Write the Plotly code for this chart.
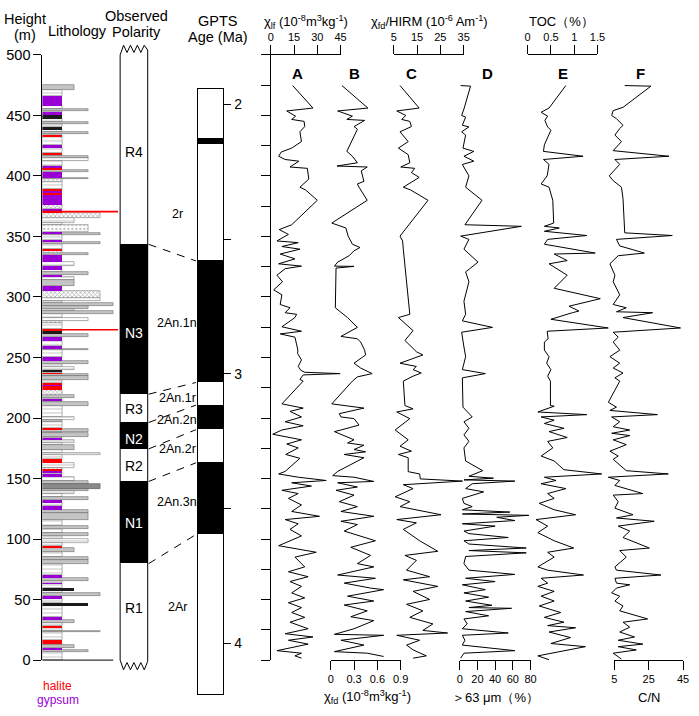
import plotly.graph_objects as go

W, H = 699, 716
FONT = "Arial, Liberation Sans, sans-serif"


def px(x):
    return x / W


def py(y):
    return 1 - y / H


# ---------------- data ----------------
# lithology log: layer top / base (m), lithology kind, grain-size class
litho_top = [475.0, 470.7, 466.0, 458.0, 455.0, 453.8, 452.6, 450.7, 447.2, 444.5, 442.6, 440.5, 437.8, 436.2,
             435.0, 433.8, 432.0, 425.7, 423.0, 419.0, 417.6, 416.8, 414.6, 412.5, 408.0, 406.2, 405.0, 403.2,
             398.5, 397.5, 394.7, 389.3, 388.0, 386.0, 384.5, 376.0, 372.6, 370.8, 369.8, 365.6, 361.5, 359.7,
             353.8, 352.9, 351.6, 347.0, 345.5, 343.5, 339.5, 338.5, 336.0, 334.5, 328.7, 325.5, 322.5, 321.0,
             318.0, 316.7, 314.0, 309.0, 305.0, 299.2, 296.5, 295.0, 292.4, 290.0, 288.5, 286.0, 283.0, 280.5,
             278.5, 273.3, 272.5, 271.7, 269.5, 266.8, 264.1, 259.3, 257.5, 256.1, 250.1, 247.4, 244.8, 242.6,
             239.9, 238.5, 237.2, 236.5, 235.1, 234.5, 231.8, 229.1, 227.0, 226.4, 223.2, 219.4, 217.0, 215.7,
             214.3, 213.0, 210.3, 200.9, 198.2, 196.8, 192.0, 190.9, 188.7, 187.4, 184.7, 183.4, 181.5, 179.3,
             178.0, 174.0, 171.2, 169.9, 165.8, 163.2, 159.1, 157.5, 156.5, 155.0, 153.8, 151.1, 148.4, 145.7,
             141.7, 139.5, 137.6, 135.0, 132.2, 129.5, 127.0, 124.2, 121.5, 116.1, 110.7, 108.0, 105.3, 102.6,
             99.9, 97.2, 94.5, 92.6, 89.1, 85.1, 82.4, 79.7, 70.3, 67.6, 65.7, 63.6, 63.0, 59.5, 56.8, 55.5,
             52.8, 50.6, 47.4, 44.7, 35.3, 33.6, 30.6, 28.0, 26.8, 24.0, 23.2, 16.4, 13.7, 12.4, 10.0, 8.4, 7.0]
litho_base = litho_top[1:] + [0.0]
litho_kind = ['silt', 'mud', 'gyp', 'mud', 'silt', 'mud', 'gyp', 'dark', 'mud', 'silt', 'mud', 'dark', 'mud', 'silt',
              'mud', 'hal', 'mud', 'gyp', 'mud', 'hal', 'mud', 'silt', 'mud', 'mud', 'gyp', 'hal', 'silt', 'gyp',
              'silt', 'chk', 'mud', 'hal', 'gyp', 'hal', 'gyp', 'chk', 'gyp', 'hal', 'chk', 'mud', 'mud', 'sand',
              'gyp', 'silt', 'mud', 'gyp', 'silt', 'mud', 'hal', 'chk', 'silt', 'gyp', 'mud', 'gyp', 'mud', 'silt',
              'gyp', 'mud', 'silt', 'gyp', 'chk', 'mud', 'mud', 'silt', 'silt', 'mud', 'silt', 'mud', 'mud', 'chk',
              'mud', 'hal', 'mud', 'dark', 'silt', 'gyp', 'mud', 'gyp', 'silt', 'mud', 'gyp', 'silt', 'mud', 'mud',
              'dark', 'mud', 'hal', 'silt', 'mud', 'silt', 'mud', 'hal', 'gyp', 'hal', 'chk', 'silt', 'mud', 'gyp',
              'mud', 'silt', 'mud', 'mud', 'silt', 'mud', 'hal', 'silt', 'mud', 'silt', 'mud', 'gyp', 'mud', 'mud',
              'silt', 'mud', 'mud', 'mud', 'hal', 'mud', 'chk', 'hal', 'gyp', 'chk', 'gyp', 'mud', 'silt', 'dsilt',
              'silt', 'mud', 'mud', 'silt', 'gyp', 'mud', 'gyp', 'silt', 'silt', 'mud', 'silt', 'mud', 'silt', 'mud',
              'mud', 'mud', 'hal', 'silt', 'mud', 'silt', 'silt', 'mud', 'gyp', 'silt', 'mud', 'gyp', 'mud', 'dark',
              'mud', 'silt', 'gyp', 'mud', 'dark', 'mud', 'gyp', 'silt', 'mud', 'hal', 'mud', 'silt', 'mud', 'hal',
              'mud', 'silt', 'gyp', 'silt', 'mud']
litho_grain = [2, 1, 1, 1, 3, 1, 1, 1, 1, 3, 1, 1, 1, 3,
               1, 1, 1, 1, 1, 1, 1, 3, 3, 1, 1, 1, 3, 1,
               3, 1, 1, 1, 1, 1, 1, 1, 1, 1, 4, 2, 1, 3,
               1, 4, 1, 1, 4, 1, 1, 1, 3, 1, 2, 1, 1, 3,
               1, 2, 2, 1, 4, 4, 1, 5, 3, 2, 5, 1, 3, 1,
               1, 1, 1, 1, 3, 1, 1, 1, 3, 1, 1, 3, 1, 2,
               1, 1, 1, 3, 1, 3, 1, 1, 1, 1, 1, 2, 1, 1,
               1, 3, 1, 2, 1, 1, 1, 3, 1, 3, 1, 1, 2, 1,
               2, 1, 4, 1, 1, 2, 1, 1, 1, 1, 1, 2, 3, 4,
               3, 2, 1, 3, 1, 1, 1, 3, 3, 1, 3, 1, 3, 1,
               3, 1, 1, 2, 1, 3, 3, 1, 1, 3, 1, 1, 1, 2, 1, 4,
               1, 1, 3, 1, 1, 2, 1, 1, 1, 4, 1, 1, 1, 2, 1, 3, 1]
halite_marker = [370.5, 272.9]

# observed polarity zones (m)
pol_name = ['R4', 'N3', 'R3', 'N2', 'R2', 'N1', 'R1']
pol_top = [500.0, 343.5, 219.7, 196.3, 174.5, 147.6, 79.7]
pol_base = [343.5, 219.7, 196.3, 174.5, 147.6, 79.7, 0.0]
pol_label_h = [420, 270, 207.5, 183, 160, 113, 43]

# GPTS (Ma)
normal_start = [2.128, 2.581, 3.116, 3.330]
normal_end = [2.148, 3.032, 3.207, 3.596]
chron_name = ['2r', '2An.1n', '2An.1r', '2An.2n', '2An.2r', '2An.3n', '2Ar']
chron_label_age = [2.406, 2.813, 3.088, 3.172, 3.280, 3.475, 3.866]
tie_height = [343.5, 219.7, 196.3, 174.5, 147.6, 79.7]
tie_age = [2.581, 3.032, 3.116, 3.207, 3.330, 3.596]

# A: chi_lf
h_a = [474.7, 456.1, 453.7, 449.4, 446.7, 445.1, 440.8, 436.5, 428.4, 423.0, 419.8, 416.3, 413.6, 412.2, 407.4,
       406.3, 397.4, 390.7, 388.5, 379.9, 359.7, 355.7, 351.7, 346.3, 344.9, 341.7, 339.5, 335.5, 331.5, 327.4,
       325.5, 323.4, 318.0, 312.6, 305.9, 301.8, 293.8, 291.1, 287.0, 285.7, 283.0, 275.4, 271.7, 269.5, 266.8,
       256.1, 253.4, 248.0, 242.6, 239.4, 237.8, 236.7, 235.6, 231.9, 230.5, 211.7, 208.2, 205.5, 200.9, 196.9,
       193.6, 190.1, 186.6, 184.7, 182.0, 178.5, 175.3, 169.9, 166.7, 155.9, 153.8, 151.1, 148.4, 146.5, 143.8,
       140.3, 137.6, 133.6, 128.2, 122.8, 118.8, 116.1, 112.6, 108.0, 102.6, 94.5, 89.1, 85.1, 77.0, 73.0, 68.9,
       64.9, 60.9, 55.5, 51.4, 47.4, 43.4, 39.3, 35.3, 31.3, 25.9, 21.8, 19.1, 16.4, 13.2, 7.8, 5.7, 3.5, 1.6]
chi_lf = [14.1, 27.2, 10.3, 16.0, 13.5, 21.5, 21.9, 18.8, 19.8, 13.5, 6.8, 5.1, 9.3, 18.1, 12.4,
          23.6, 24.5, 18.8, 22.4, 30.0, 13.5, 5.5, 11.4, 4.0, 17.7, 7.2, 18.8, 6.1, 15.6, 5.1,
          19.8, 9.3, 4.0, 7.6, 1.9, 7.2, 6.1, 12.4, 9.3, 16.7, 15.6, 7.2, 19.8, 6.1, 15.6,
          17.5, 17.3, 19.8, 17.7, 19.4, 21.9, 44.7, 20.9, 18.8, 20.9, 7.2, 20.9, 12.4, 19.8, 9.3,
          20.9, 7.2, 1.3, 9.3, 19.8, 10.3, 17.7, 9.7, 18.8, 9.3, 5.1, 17.7, 35.7, 13.5, 26.2,
          7.2, 17.7, 11.4, 19.8, 13.5, 31.4, 9.3, 17.7, 12.4, 19.8, 5.1, 29.3, 15.6, 21.9, 11.4, 24.1,
          12.4, 19.8, 13.5, 21.9, 11.4, 19.8, 13.5, 21.9, 12.4, 24.1, 9.3, 27.2, 11.4, 24.1, 4.0, 19.8, 15.6, 19.8]

# B: chi_fd
h_b = [474.7, 456.1, 453.7, 449.4, 446.7, 445.9, 440.8, 438.6, 420.3, 416.3, 410.9, 408.2, 407.4, 404.2, 395.5,
       393.4, 390.7, 379.9, 361.1, 357.0, 350.3, 343.6, 340.9, 338.2, 334.1, 328.8, 325.5, 325.3, 323.9, 291.1,
       283.0, 274.9, 267.4, 265.5, 262.8, 256.1, 252.1, 245.3, 241.3, 236.7, 234.0, 230.5, 211.7, 208.2, 203.6,
       200.9, 199.5, 194.2, 190.1, 188.8, 182.0, 179.4, 177.5, 174.0, 172.1, 169.9, 167.2, 155.9, 152.4, 151.1,
       147.6, 146.5, 143.0, 140.3, 136.3, 130.9, 126.8, 122.8, 118.8, 114.7, 112.0, 106.6, 98.6, 93.2, 86.5,
       79.7, 77.0, 70.3, 67.6, 63.6, 59.5, 58.2, 52.8, 48.8, 45.5, 40.7, 35.8, 32.6, 25.9, 21.3, 20.5, 16.4,
       12.4, 7.0, 5.7, 3.0]
chi_fd = [0.144, 0.478, 0.089, 0.279, 0.207, 0.436, 0.300, 0.343, 0.207, 0.279, 0.343, 0.080, 0.470, 0.393, 0.427,
          0.343, 0.364, 0.470, 0.013, 0.195, 0.224, 0.279, 0.376, 0.300, 0.237, 0.089, 0.047, 0.300, 0.068, 0.059,
          0.216, 0.343, 0.131, 0.343, 0.385, 0.436, 0.449, 0.300, 0.385, 0.533, 0.343, 0.279, 0.013, 0.427, 0.110,
          0.131, 0.300, 0.364, 0.131, 0.047, 0.300, 0.216, 0.427, 0.300, 0.449, 0.173, 0.427, 0.089, 0.025, 0.300,
          0.554, 0.089, 0.343, 0.068, 0.300, 0.110, 0.343, 0.131, 0.554, 0.131, 0.343, 0.173, 0.575, 0.258, 0.512,
          0.343, 0.554, 0.089, 0.575, 0.173, 0.512, 0.681, 0.216, 0.554, 0.173, 0.470, 0.258, 0.554, 0.300, 0.047,
          0.681, 0.131, 0.427, 0.047, 0.470, 0.681]

# C: chi_fd / HIRM
h_c = [474.7, 456.1, 453.7, 450.0, 446.7, 445.1, 440.8, 436.5, 428.4, 423.0, 417.6, 410.9, 407.4, 406.3, 402.8,
       398.8, 390.7, 388.5, 379.9, 350.3, 346.3, 339.5, 285.7, 283.0, 272.2, 264.1, 254.8, 252.1, 245.3, 242.6,
       240.0, 237.2, 234.6, 230.5, 210.3, 207.6, 205.0, 199.5, 190.1, 182.0, 176.7, 172.6, 169.9, 167.2, 155.7,
       153.8, 149.7, 147.9, 144.9, 141.7, 134.9, 130.9, 126.8, 120.1, 116.1, 113.4, 108.0, 98.6, 89.9, 86.5,
       82.4, 74.3, 68.9, 66.3, 60.9, 56.8, 50.1, 46.1, 40.7, 35.3, 29.9, 24.5, 22.4, 20.5, 16.4, 12.4, 8.4,
       3.5, 1.6]
fd_hirm = [7.7, 15.9, 6.3, 10.2, 8.4, 11.9, 12.6, 7.7, 11.2, 7.0, 11.2, 11.9, 8.0, 14.0, 12.6,
           15.9, 9.1, 12.2, 19.7, 7.7, 8.8, 9.1, 11.9, 7.0, 13.3, 9.8, 14.7, 17.5, 7.7, 14.7,
           13.3, 16.8, 13.3, 9.1, 9.8, 13.3, 6.3, 11.9, 5.6, 11.2, 7.7, 12.6, 7.0, 11.2, 11.2,
           16.1, 16.4, 34.5, 9.1, 13.3, 5.6, 11.9, 7.7, 25.3, 6.3, 14.7, 9.1, 16.1, 23.9, 9.8,
           14.7, 10.5, 20.4, 9.1, 23.9, 13.3, 20.4, 10.5, 17.5, 11.9, 21.8, 17.5, 28.1, 6.3, 16.1, 10.5, 13.3,
           19.0, 13.3]

# D: >63 um fraction
h_d = [474.7, 474.2, 455.3, 450.0, 448.6, 441.9, 440.5, 436.5, 433.8, 423.0, 420.3, 416.3, 412.2, 409.5, 400.1,
       390.7, 379.9, 359.7, 358.4, 350.3, 347.6, 339.5, 328.8, 320.7, 312.6, 296.5, 285.7, 280.3, 274.9, 270.9,
       258.7, 250.7, 240.0, 236.7, 233.2, 209.0, 200.9, 196.9, 191.5, 186.1, 180.7, 175.3, 164.5, 156.5, 151.9,
       150.3, 148.9, 147.9, 145.7, 141.7, 139.0, 133.6, 129.5, 126.8, 124.2, 122.3, 120.7, 119.6, 118.0, 115.3,
       112.6, 110.7, 106.6, 104.5, 101.3, 98.6, 95.9, 92.6, 90.5, 88.6, 85.6, 79.7, 74.3, 70.8, 67.6, 64.9,
       62.2, 58.2, 55.5, 52.0, 48.8, 45.3, 43.4, 42.8, 40.1, 36.6, 34.0, 29.9, 25.9, 22.4, 20.5, 16.4, 12.4,
       7.8, 5.7, 1.6]
coarse = [1.1, 12.2, 4.8, 2.2, 6.7, 3.0, 10.4, 2.2, 6.7, 3.7, 15.9, 4.8, 15.9, 3.0, 10.4,
          6.7, 25.2, 5.9, 69.6, 1.1, 10.4, 4.8, 20.7, 6.7, 10.4, 4.8, 6.7, 3.0, 37.0, 2.2,
          4.8, 6.7, 3.0, 28.9, 3.0, 3.7, 14.1, 4.8, 10.4, 4.8, 10.4, 4.8, 6.7, 26.0, 10.4,
          38.1, 4.8, 62.2, 14.1, 6.7, 27.0, 3.0, 4.8, 14.1, 3.0, 56.6, 3.0, 78.0, 41.8, 62.2,
          3.0, 40.0, 4.8, 10.4, 54.8, 4.8, 10.4, 75.1, 10.4, 75.1, 6.7, 4.8, 10.4, 62.2, 6.7, 40.0,
          3.0, 28.9, 4.8, 32.6, 6.7, 36.3, 10.4, 58.5, 6.7, 32.6, 4.8, 8.5, 3.0, 54.8, 3.0, 5.9, 3.0,
          62.2, 4.8, 1.1]

# E: TOC
h_e = [474.7, 456.1, 452.6, 449.4, 445.9, 440.5, 437.8, 432.4, 425.7, 420.3, 416.3, 413.6, 409.6, 400.1, 393.4,
       390.7, 379.9, 361.1, 358.4, 357.0, 354.3, 350.8, 347.6, 343.6, 336.3, 335.5, 330.1, 327.4, 318.0, 307.2,
       298.6, 292.4, 288.4, 287.0, 281.6, 274.4, 271.7, 265.5, 262.8, 256.1, 250.7, 245.3, 240.0, 234.6, 230.5,
       210.3, 209.8, 205.0, 202.8, 200.9, 198.2, 195.5, 191.5, 188.8, 183.9, 180.7, 175.3, 168.6, 164.5, 157.3,
       153.8, 151.1, 148.4, 145.7, 141.7, 137.6, 133.6, 129.5, 124.2, 120.1, 116.1, 110.7, 105.3, 98.6, 92.6,
       89.1, 85.1, 77.0, 74.3, 70.3, 67.6, 63.6, 60.9, 56.8, 52.8, 48.8, 44.7, 39.3, 35.3, 31.3, 28.5, 26.7,
       23.2, 18.6, 13.7, 11.1, 7.0, 3.5, 0.3]
toc = [0.82, 0.46, 0.29, 0.43, 0.37, 0.43, 0.50, 0.44, 0.36, 0.34, 1.19, 0.34, 0.46, 0.42, 0.29,
       0.46, 0.54, 0.56, 0.36, 0.68, 0.36, 1.27, 0.43, 0.36, 1.45, 0.57, 0.85, 0.46, 0.85, 0.57,
       1.56, 0.89, 1.10, 0.96, 0.50, 1.73, 0.42, 0.44, 0.36, 0.36, 0.46, 0.41, 0.50, 0.43, 0.49,
       0.49, 0.57, 0.22, 1.27, 0.29, 0.57, 0.36, 0.78, 0.46, 0.85, 0.43, 0.54, 0.29, 0.57, 0.78,
       1.59, 0.36, 0.61, 0.29, 0.82, 0.43, 0.57, 0.25, 0.57, 1.03, 0.18, 0.43, 0.22, 0.57, 0.99,
       0.43, 0.57, 0.22, 0.43, 1.20, 0.29, 0.43, 0.22, 0.57, 0.29, 0.57, 0.25, 0.71, 0.36, 0.78, 0.43, 1.03,
       0.46, 0.92, 0.50, 1.24, 0.64, 0.22, 0.46]

# F: C/N
h_f = [474.7, 474.2, 456.7, 454.0, 450.0, 447.3, 441.9, 439.2, 433.8, 428.4, 420.9, 416.3, 413.6, 409.6, 400.1,
       396.1, 390.7, 381.3, 353.0, 350.8, 347.6, 342.2, 336.3, 334.1, 327.4, 318.0, 312.6, 301.8, 293.8, 291.1,
       287.8, 287.0, 283.0, 274.4, 270.9, 266.8, 262.8, 256.1, 250.7, 245.3, 241.3, 237.2, 233.2, 230.5, 213.0,
       209.0, 206.3, 202.8, 200.9, 196.9, 192.8, 190.1, 187.4, 185.5, 182.0, 178.0, 172.6, 168.6, 165.9, 156.5,
       153.8, 151.1, 148.4, 144.3, 137.6, 136.3, 130.9, 125.5, 120.1, 117.4, 114.7, 110.7, 106.6, 101.3, 92.6,
       90.5, 85.1, 77.0, 74.3, 70.3, 67.6, 63.6, 62.2, 59.5, 55.5, 52.8, 48.8, 44.7, 40.7, 34.0, 31.3, 27.2,
       23.2, 19.1, 16.4, 13.2, 11.1, 8.4, 5.7, 3.0, 0.8]
c_n = [11.1, 26.3, 10.1, 4.4, 3.5, 6.3, 10.1, 8.2, 5.4, 9.2, 4.4, 36.8, 5.4, 8.2, 2.1,
       4.4, 9.2, 10.1, 11.1, 38.7, 6.3, 8.2, 22.5, 7.3, 2.5, 5.4, 4.4, 8.2, 4.4, 12.0,
       6.3, 27.3, 10.1, 43.5, 4.4, 7.3, 4.4, 8.2, 2.5, 8.2, 4.4, 10.1, 5.4, 8.2, 1.6,
       6.3, 2.5, 30.1, 3.5, 8.2, 4.4, 14.0, 3.5, 14.0, 4.4, 12.0, 2.5, 7.3, 4.4, 12.0,
       36.4, 1.6, 8.2, 5.4, 21.6, 4.4, 7.3, 5.4, 15.9, 6.3, 28.2, 7.3, 14.0, 10.1, 25.4,
       8.2, 12.0, 5.4, 6.3, 32.1, 5.4, 6.3, 14.0, 6.3, 3.5, 8.2, 5.4, 10.1, 8.2, 24.4, 10.1, 14.0,
       8.2, 16.8, 7.3, 21.6, 7.3, 17.8, 4.4, 7.3, 9.2]

# ---------------- figure ----------------
fig = go.Figure()

y_dom = [py(667), py(48)]          # 0 m .. 500 m
m_per_px = 500 / (667 - 48)

# lithology column
grain_px = {1: 20, 2: 33, 3: 47, 4: 59, 5: 72}
kind_style = {
    'mud': dict(color='white', pattern=dict(shape='-', fgcolor='#9a9a9a', size=4, solidity=0.3),
                line=dict(color='#808080', width=0.6)),
    'silt': dict(color='#c4c4c4', line=dict(color='#6e6e6e', width=0.6)),
    'dsilt': dict(color='#8a8a8a', line=dict(color='#555555', width=0.6)),
    'sand': dict(color='white', pattern=dict(shape='.', fgcolor='#888888', size=4, solidity=0.3),
                 line=dict(color='#808080', width=0.6)),
    'chk': dict(color='white', pattern=dict(shape='x', fgcolor='#555555', size=3, solidity=0.4),
                line=dict(color='#808080', width=0.6)),
    'dark': dict(color='#1c1c1c', line=dict(width=0)),
    'gyp': dict(color='#9a00d6', line=dict(width=0)),
    'hal': dict(color='#ff0000', line=dict(width=0)),
}
for kind, style in kind_style.items():
    idx = [i for i, k in enumerate(litho_kind) if k == kind]
    fig.add_trace(go.Bar(
        orientation='h',
        y=[(litho_top[i] + litho_base[i]) / 2 for i in idx],
        x=[grain_px[litho_grain[i]] for i in idx],
        width=[litho_top[i] - litho_base[i] for i in idx],
        base=0, marker=style, xaxis='x', yaxis='y',
        showlegend=False, hoverinfo='skip'))

for h in halite_marker:
    fig.add_trace(go.Scatter(x=[0, 77], y=[h, h], mode='lines', line=dict(color='#ff0000', width=1.6),
                             xaxis='x', yaxis='y', showlegend=False, hoverinfo='skip'))

# observed polarity column: normal zones as black bars, outline with break symbols
n_idx = [i for i, n in enumerate(pol_name) if n.startswith('N')]
fig.add_trace(go.Bar(
    x=[14] * len(n_idx), y=[pol_top[i] - pol_base[i] for i in n_idx], base=[pol_base[i] for i in n_idx],
    width=28, marker=dict(color='black', line=dict(width=0)), xaxis='x2', yaxis='y2',
    showlegend=False, hoverinfo='skip'))
zig_x = [0, 3.5, 7, 10.5, 14, 17.5, 21, 24.5, 28]
zig_top = [0, 8, 2, 8, 2, 8, 2, 8, 4]
zig_bot = [0, -8, -2, -8, -2, -8, -2, -8, -1]
fig.add_trace(go.Scatter(
    x=zig_x + zig_x[::-1] + [zig_x[0]],
    y=[500 + z for z in zig_top] + zig_bot[::-1] + [500 + zig_top[0]],
    mode='lines', line=dict(color='black', width=1),
    xaxis='x2', yaxis='y2', showlegend=False, hoverinfo='skip'))

# GPTS column
fig.add_trace(go.Bar(
    x=[0.5] * len(normal_start), y=[e - s for s, e in zip(normal_start, normal_end)], base=normal_start,
    width=1, marker=dict(color='black', line=dict(width=0)), xaxis='x3', yaxis='y3',
    showlegend=False, hoverinfo='skip'))

# right-hand curves
scale_px = [(272, 343), (333, 404), (397, 468), (464, 536), (533, 604), (621, 691)]
scale_range = [(0, 45), (0, 0.9), (5, 35), (0, 80), (0, 1.5), (5, 45)]
scale_ticks = [[0, 15, 30, 45], [0, 0.3, 0.6, 0.9], [5, 15, 25, 35], [0, 20, 40, 60, 80],
               [0, 0.5, 1, 1.5], [5, 25, 45]]
scale_side = ['top', 'bottom', 'top', 'bottom', 'top', 'bottom']
series = [(h_a, chi_lf), (h_b, chi_fd), (h_c, fd_hirm), (h_d, coarse), (h_e, toc), (h_f, c_n)]

layout_axes = {}
for k in range(6):
    p0, p1 = scale_px[k]
    r0, r1 = scale_range[k]
    per_px = (r1 - r0) / (p1 - p0)
    sx = k + 4
    dx = k + 10
    layout_axes['xaxis%d' % sx] = dict(
        domain=[px(p0), px(p1)], range=[r0, r1], anchor='y4', side=scale_side[k],
        tickvals=scale_ticks[k], ticks='outside', ticklen=9, tickwidth=1, tickcolor='black',
        showline=True, linecolor='black', linewidth=1, showgrid=False, zeroline=False,
        tickfont=dict(size=11, color='black'))
    left_pad = min(14, p0)
    right_pad = min(14, W - p1)
    layout_axes['xaxis%d' % dx] = dict(
        domain=[px(p0 - left_pad), px(p1 + right_pad)],
        range=[r0 - left_pad * per_px, r1 + right_pad * per_px], anchor='y4', visible=False)
    fig.add_trace(go.Scatter(x=[None], y=[None], xaxis='x%d' % sx, yaxis='y4',
                             showlegend=False, hoverinfo='skip'))
    hs, vs = series[k]
    fig.add_trace(go.Scatter(x=vs, y=hs, mode='lines', line=dict(color='black', width=1),
                             xaxis='x%d' % dx, yaxis='y4', showlegend=False, hoverinfo='skip'))

# tie lines polarity -> GPTS
age_dom = [py(701.7), py(83.3)]
age_rng = [4.1875, 1.945]
shapes = []
for h, a in zip(tie_height, tie_age):
    y0 = y_dom[0] + h / 500 * (y_dom[1] - y_dom[0])
    y1 = age_dom[0] + (a - age_rng[0]) / (age_rng[1] - age_rng[0]) * (age_dom[1] - age_dom[0])
    shapes.append(dict(type='line', xref='paper', yref='paper', x0=px(148), x1=px(196), y0=y0, y1=y1,
                       line=dict(color='black', width=1, dash='8px,7px')))
shapes.append(dict(type='line', xref='paper', yref='paper', x0=px(40), x1=px(112), y0=y_dom[0], y1=y_dom[0],
                   line=dict(color='black', width=1)))

# text
ann = []


def label(x, y, text, size=14.5, color='black', bold=False, xref='paper', yref='paper'):
    if bold:
        text = '<b>' + text + '</b>'
    ann.append(dict(x=x, y=y, xref=xref, yref=yref, text=text, showarrow=False,
                    font=dict(size=size, color=color, family=FONT), xanchor='center', yanchor='middle'))


label(px(22), py(11), 'Height')
label(px(22), py(28), '(m)')
label(px(76), py(24), 'Lithology')
label(px(136), py(8), 'Observed')
label(px(136), py(25), 'Polarity')
label(px(218), py(13), 'GPTS')
label(px(218), py(30), 'Age (Ma)')
label(px(55), py(694), 'halite', size=12, color='#ff0000')
label(px(56), py(708), 'gypsum', size=12, color='#9a00d6')

for name, hl in zip(pol_name, pol_label_h):
    label(14, hl, name, size=14, color='white' if name.startswith('N') else 'black', xref='x2', yref='y2')
for name, a in zip(chron_name, chron_label_age):
    label(px(177), a, name, size=12.5, yref='y3')

label(px(308), py(14), '\u03c7<sub>lf</sub> (10<sup>-8</sup>m<sup>3</sup>kg<sup>-1</sup>)', size=13)
label(px(433), py(14), '\u03c7<sub>fd</sub>/HIRM (10<sup>-6</sup> Am<sup>-1</sup>)', size=13)
label(px(567), py(14), 'TOC\uff08%\uff09', size=13)
label(px(370), py(705), '\u03c7<sub>fd</sub> (10<sup>-8</sup>m<sup>3</sup>kg<sup>-1</sup>)', size=13)
label(px(500), py(705), '\uff1e63 \u03bcm\uff08%\uff09', size=13)
label(px(656), py(705), 'C/N', size=13)

for letter, lx in zip(['A', 'B', 'C', 'D', 'E', 'F'], [299, 357, 415, 492, 569, 648]):
    label(px(lx), py(67), letter, size=15, bold=True)

y2_rng = [-(680 - 667) * m_per_px, 500 + (48 - 35) * m_per_px]

fig.update_layout(
    width=W, height=H, margin=dict(l=0, r=0, t=0, b=0),
    paper_bgcolor='white', plot_bgcolor='rgba(0,0,0,0)',
    font=dict(family=FONT, color='black'),
    showlegend=False, barmode='overlay', bargap=0,
    xaxis=dict(domain=[px(40), px(117)], range=[0, 77], anchor='y', visible=False),
    yaxis=dict(domain=y_dom, range=[0, 500], anchor='x', tickvals=list(range(0, 501, 50)),
               ticks='outside', ticklen=8, tickwidth=1, tickcolor='black', showline=True,
               linecolor='black', linewidth=1, showgrid=False, zeroline=False,
               tickfont=dict(size=14.5, color='black')),
    xaxis2=dict(domain=[px(115), px(151)], range=[-4, 32], anchor='y2', visible=False),
    yaxis2=dict(domain=[py(680), py(35)], range=y2_rng, anchor='x2', visible=False),
    xaxis3=dict(domain=[px(198), px(224)], range=[0, 1], anchor='y3', showline=True, mirror=True,
                linecolor='black', linewidth=1, showticklabels=False, ticks='', showgrid=False,
                zeroline=False),
    yaxis3=dict(domain=age_dom, range=age_rng, anchor='x3', side='right', showline=True, mirror=True,
                linecolor='black', linewidth=1, tickvals=[2, 2.5, 3, 3.5, 4],
                ticktext=['2', '', '3', '', '4'], ticks='outside', ticklen=7, tickwidth=1,
                tickcolor='black', showgrid=False, zeroline=False, tickfont=dict(size=14, color='black')),
    yaxis4=dict(domain=y_dom, range=[0, 500], anchor='x4', tickvals=list(range(0, 501, 25)),
                ticks='outside', ticklen=9, tickwidth=1, tickcolor='black', showticklabels=False,
                showline=True, linecolor='black', linewidth=1, showgrid=False, zeroline=False),
    shapes=shapes, annotations=ann,
)
fig.update_layout(**layout_axes)

# pin the figure to the window corner so page margins do not shift it
pin = ("var gd=document.getElementById('{plot_id}');gd.style.position='fixed';"
       "gd.style.left='0px';gd.style.top='0px';"
       "document.body.style.margin='0px';document.body.style.overflow='hidden';")
fig.write_html("out.html", post_script=pin, config={'displayModeBar': False})
